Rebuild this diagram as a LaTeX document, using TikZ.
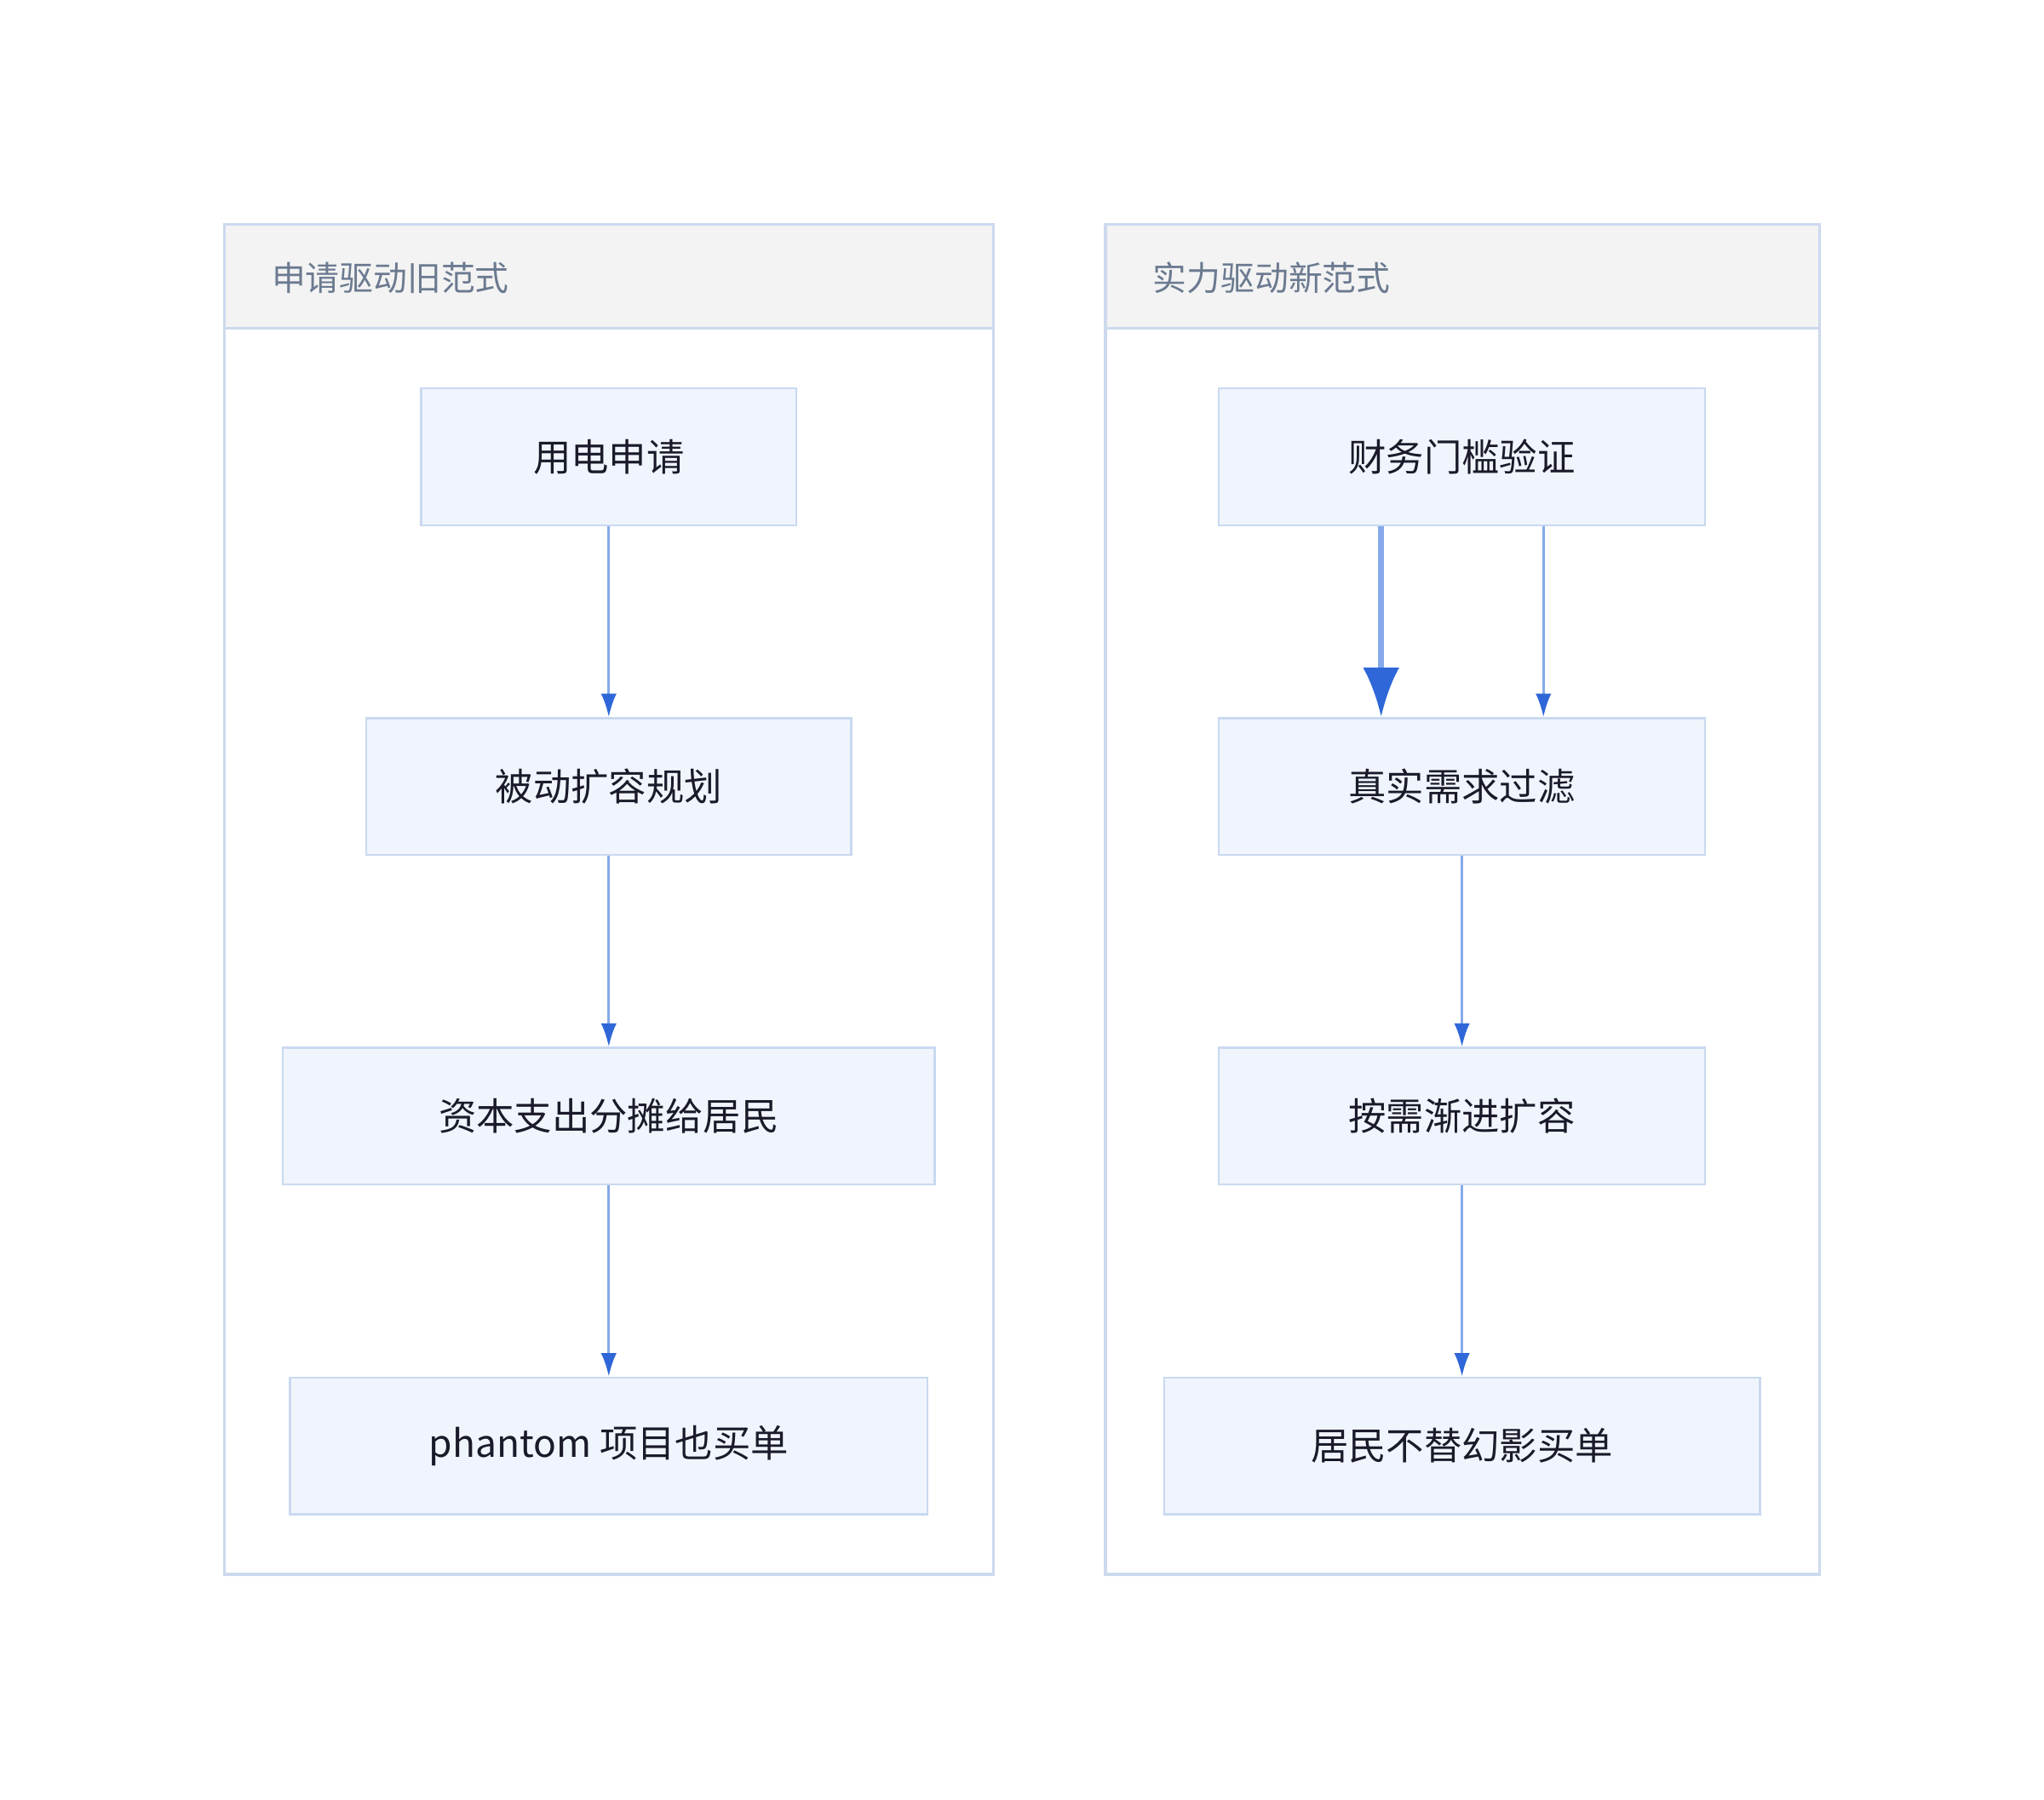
\documentclass[tikz,border=0pt]{standalone}
\usepackage{fontspec}
\setmainfont{Noto Sans CJK SC}
\usetikzlibrary{arrows.meta}
\definecolor{nfill}{HTML}{F0F5FD}
\definecolor{nbord}{HTML}{C9D9F0}
\definecolor{cbord}{HTML}{CCD9EE}
\definecolor{hfill}{HTML}{F3F3F3}
\definecolor{htext}{HTML}{6B7A90}
\definecolor{eline}{HTML}{86A9EA}
\definecolor{etip}{HTML}{2F67D8}
\definecolor{ntext}{HTML}{1A1A2A}
\tikzset{
 box/.style={draw=nbord,fill=nfill,line width=1.5pt,text=ntext,font=\fontsize{29}{34}\selectfont,inner sep=0pt},
 edge/.style={draw=eline,line width=2pt,-{Latex[color=etip,length=18pt,width=12pt]}},
 bigedge/.style={draw=eline,line width=4.5pt,-{Latex[color=etip,length=38pt,width=28pt]}},
 clus/.style={draw=cbord,line width=2pt},
 head/.style={draw=cbord,fill=hfill,line width=2pt},
 htxt/.style={text=htext,font=\fontsize{26}{30}\selectfont,anchor=west}
}
\begin{document}
\begin{tikzpicture}[x=1pt,y=-1pt]
\useasboundingbox (0,0) rectangle (1568,1381);
\fill[white] (0,0) rectangle (1568,1381);
% clusters
\draw[clus] (172,172) rectangle (762,1208);
\draw[head] (172,172) rectangle (762,252);
\node[htxt] (h1) at (205,213) {申请驱动旧范式};
\draw[clus] (848,172) rectangle (1396,1208);
\draw[head] (848,172) rectangle (1396,252);
\node[htxt] (h2) at (881,213) {实力驱动新范式};
% left nodes
\node[box,minimum width=288pt,minimum height=105pt] (a1) at (467,350.5) {用电申请};
\node[box,minimum width=372pt,minimum height=105pt] (a2) at (467,603.5) {被动扩容规划};
\node[box,minimum width=500pt,minimum height=105pt] (a3) at (467,856.5) {资本支出分摊给居民};
\node[box,minimum width=489pt,minimum height=105pt] (a4) at (467,1109.5) {phantom 项目也买单};
% right nodes
\node[box,minimum width=373pt,minimum height=105pt] (b1) at (1121.5,350.5) {财务门槛验证};
\node[box,minimum width=373pt,minimum height=105pt] (b2) at (1121.5,603.5) {真实需求过滤};
\node[box,minimum width=373pt,minimum height=105pt] (b3) at (1121.5,856.5) {按需渐进扩容};
\node[box,minimum width=457pt,minimum height=105pt] (b4) at (1121.5,1109.5) {居民不替幻影买单};
% edges
\draw[edge] (a1) -- (a2);
\draw[edge] (a2) -- (a3);
\draw[edge] (a3) -- (a4);
\draw[bigedge] ([xshift=-62pt]b1.south) -- ([xshift=-62pt]b2.north);
\draw[edge] ([xshift=62.5pt]b1.south) -- ([xshift=62.5pt]b2.north);
\draw[edge] (b2) -- (b3);
\draw[edge] (b3) -- (b4);
\end{tikzpicture}
\end{document}
